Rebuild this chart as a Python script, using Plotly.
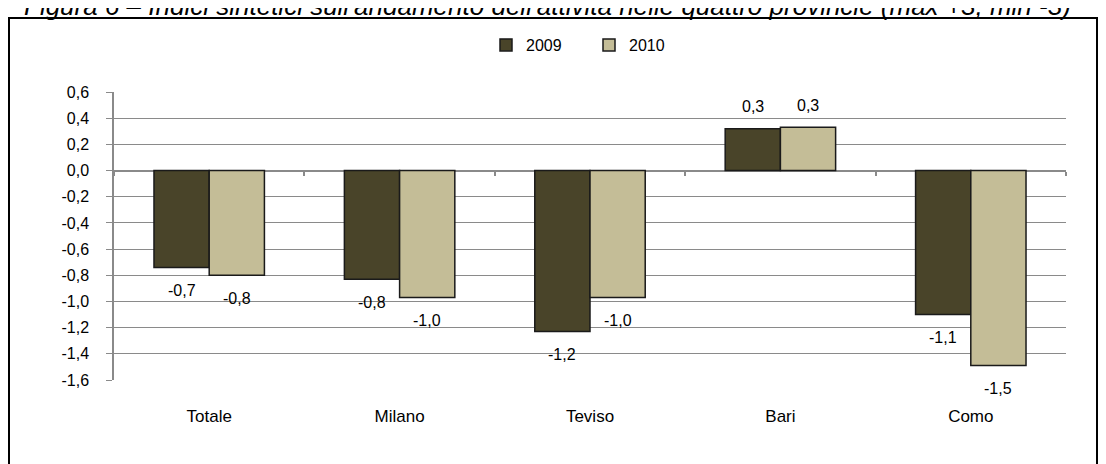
import plotly.graph_objects as go

categorie = ["Totale", "Milano", "Teviso", "Bari", "Como"]
valori_2009 = [-0.74, -0.83, -1.23, 0.32, -1.10]
valori_2010 = [-0.80, -0.97, -0.97, 0.33, -1.49]
tick_y = [0.6, 0.4, 0.2, 0.0, -0.2, -0.4, -0.6, -0.8, -1.0, -1.2, -1.4, -1.6]
tick_y_testo = ["0,6", "0,4", "0,2", "0,0", "-0,2", "-0,4", "-0,6", "-0,8",
                "-1,0", "-1,2", "-1,4", "-1,6"]

COL_2009 = "#494429"
COL_2010 = "#C4BD97"
GRIGIO = "#8A8A8A"
FONT = "Liberation Sans, Arial, sans-serif"
# la pagina ha 8px di margine: la figura parte da (8, 8)
W, H = 1098, 456
ML, MR, MT, MB = 106, 40, 84, 84
PH = H - MT - MB
PW = W - ML - MR
LARG = 0.29


def etichetta(v):
    return f"{v:.1f}".replace(".", ",")


fig = go.Figure()
for nome, valori, colore, off in [("2009", valori_2009, COL_2009, -LARG),
                                  ("2010", valori_2010, COL_2010, 0)]:
    fig.add_trace(go.Bar(
        x=categorie, y=valori, name=nome,
        width=LARG, offset=off,
        marker=dict(color=colore, line=dict(color="#1A1A1A", width=1.5)),
        hoverinfo="x+y",
    ))

# etichette dati, fuori dalla fine della barra
annotazioni = []
for i in range(len(categorie)):
    for valori, dx in [(valori_2009, -LARG / 2), (valori_2010, LARG / 2)]:
        v = valori[i]
        annotazioni.append(dict(
            x=i + dx, y=v, xref="x", yref="y",
            text=etichetta(v), showarrow=False,
            yshift=-23 if v < 0 else 22,
            font=dict(size=16, color="#000", family=FONT),
        ))

annotazioni.append(dict(
    text="Figura 6 – Indici sintetici sull'andamento dell'attività nelle quattro provincie (max +3, min -3)",
    xref="paper", yref="paper", x=(547 - 8 - ML) / PW, y=1,
    yanchor="middle", yshift=MT + 2, showarrow=False,
    font=dict(size=26, color="#000", family=FONT, style="italic"),
))

# trattini dell'asse categorie, sulla linea dello zero
fig.add_trace(go.Scatter(x=[0], y=[0], xaxis="x2",
                         mode="markers", marker=dict(opacity=0),
                         showlegend=False, hoverinfo="skip"))

zero_pos = (0 - tick_y[-1]) / (tick_y[0] - tick_y[-1])

fig.update_layout(
    width=W, height=H,
    margin=dict(l=ML, r=MR, t=MT, b=MB),
    paper_bgcolor="white", plot_bgcolor="white",
    font=dict(family=FONT, size=16, color="#000"),
    barmode="overlay",
    showlegend=True,
    legend=dict(orientation="h", x=(589 - 8 - ML) / PW, xanchor="center",
                y=1 + 47 / PH, yanchor="middle",
                font=dict(size=16), itemwidth=30, traceorder="normal",
                entrywidth=58, entrywidthmode="pixels"),
    xaxis=dict(type="category", range=[-0.5, 4.5], showgrid=False,
               zeroline=False, showline=False, ticks="",
               tickfont=dict(size=17), ticklabelstandoff=24),
    xaxis2=dict(overlaying="x", anchor="free", position=zero_pos,
                range=[-0.5, 4.5], showgrid=False, zeroline=False,
                showline=False, showticklabels=False, ticks="outside",
                ticklen=4, tickcolor=GRIGIO, tickwidth=1.5,
                tickvals=[-0.5, 0.5, 1.5, 2.5, 3.5, 4.5]),
    yaxis=dict(range=[tick_y[-1], tick_y[0]], tickvals=tick_y,
               ticktext=tick_y_testo, showgrid=True, gridcolor=GRIGIO,
               gridwidth=1.2, zeroline=True, zerolinecolor=GRIGIO,
               zerolinewidth=1.5, showline=True, linecolor=GRIGIO,
               linewidth=1.5, ticks="outside", ticklen=6, tickcolor=GRIGIO,
               tickfont=dict(size=16), ticklabelstandoff=14),
    annotations=annotazioni,
    shapes=[dict(type="rect", xref="paper", yref="paper",
                 x0=(1 - ML) / PW, x1=(1089 - ML) / PW,
                 y0=-0.5, y1=1 + (MT - 10) / PH,
                 line=dict(color="#000", width=2), layer="below")],
)

fig.write_html("out.html")
